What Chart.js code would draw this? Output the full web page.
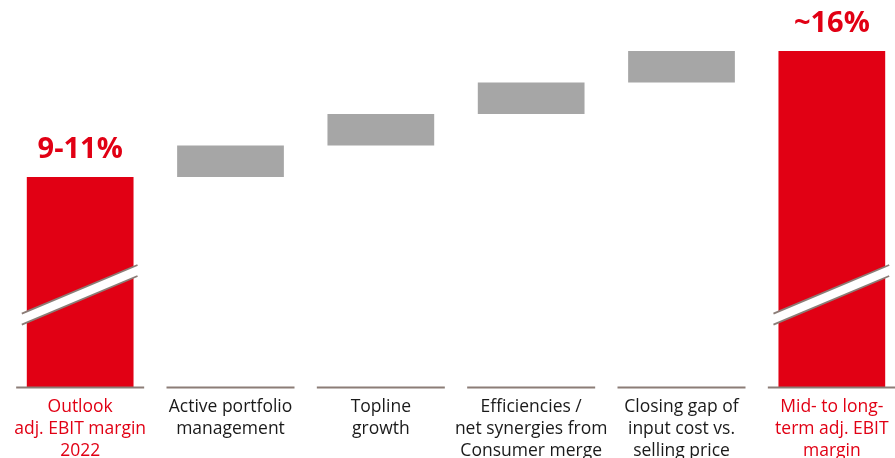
<!DOCTYPE html>
<html>
<head>
<meta charset="utf-8">
<script src="https://cdn.jsdelivr.net/npm/chart.js@4/dist/chart.umd.min.js"></script>
<style>
  html, body { margin: 0; padding: 0; background: #ffffff; overflow: hidden; }
  #wrap { position: absolute; left: 0; top: 0; width: 907px; height: 458px; }
</style>
</head>
<body>
<div id="wrap"><canvas id="chart"></canvas></div>
<script>
// Bridge categories (multi-line labels)
const categories = [
  ['Outlook', 'adj. EBIT margin', '2022'],
  ['Active portfolio', 'management'],
  ['Topline', 'growth'],
  ['Efficiencies /', 'net synergies from', 'Consumer merge'],
  ['Closing gap of', 'input cost vs.', 'selling price'],
  ['Mid- to long-', 'term adj. EBIT', 'margin']
];
// Adjusted EBIT margin, % of sales
const startMargin = 10;                 // 9-11% outlook, midpoint
const upliftSteps = [1.5, 1.5, 1.5, 1.5];
const targetMargin = 16;                // ~16%
const totalLabels = ['9-11%', '~16%'];

const RED = '#e10014';
const GREY = '#a6a6a6';
const LINE = '#8b7d77';

// Floating ranges for the bridge
const ranges = [[0, startMargin]];
let level = startMargin;
upliftSteps.forEach(s => { ranges.push([level, level + s]); level += s; });
ranges.push([0, targetMargin]);
const colors = ranges.map((r, i) => (i === 0 || i === ranges.length - 1) ? RED : GREY);

// Category baselines under every column
const baselinePlugin = {
  id: 'baselines',
  afterDatasetsDraw(chart) {
    const { ctx, scales: { x, y } } = chart;
    const y0 = Math.round(y.getPixelForValue(0)) + 0.5;
    ctx.save();
    ctx.strokeStyle = LINE;
    ctx.lineWidth = 2;
    categories.forEach((c, i) => {
      const cx = x.getPixelForValue(i);
      ctx.beginPath();
      ctx.moveTo(cx - 64, y0);
      ctx.lineTo(cx + 64, y0);
      ctx.stroke();
    });
    ctx.restore();
  }
};

// Axis-break bands on the two total columns, plus their value labels
const breakPlugin = {
  id: 'axisBreak',
  afterDatasetsDraw(chart) {
    const { ctx, scales: { y } } = chart;
    const meta = chart.getDatasetMeta(0);
    const ends = [0, ranges.length - 1];
    ctx.save();
    ends.forEach((idx, k) => {
      const bar = meta.data[idx];
      const half = bar.width / 2;
      const x1 = bar.x - half - 5, x2 = bar.x + half + 4;
      const yc = y.getPixelForValue(4.4);
      const slope = -0.42;
      const gap = 11;
      const yAt = (xx) => yc + slope * (xx - bar.x);
      ctx.fillStyle = '#ffffff';
      ctx.beginPath();
      ctx.moveTo(x1, yAt(x1) - gap / 2);
      ctx.lineTo(x2, yAt(x2) - gap / 2);
      ctx.lineTo(x2, yAt(x2) + gap / 2);
      ctx.lineTo(x1, yAt(x1) + gap / 2);
      ctx.closePath();
      ctx.fill();
      ctx.strokeStyle = LINE;
      ctx.lineWidth = 1.8;
      [-gap / 2, gap / 2].forEach(off => {
        ctx.beginPath();
        ctx.moveTo(x1, yAt(x1) + off);
        ctx.lineTo(x2, yAt(x2) + off);
        ctx.stroke();
      });
      // value label above the column
      ctx.fillStyle = RED;
      ctx.font = 'bold 29px "Open Sans", sans-serif';
      ctx.textAlign = 'center';
      ctx.textBaseline = 'alphabetic';
      ctx.fillText(totalLabels[k], bar.x, bar.y - 19);
    });
    ctx.restore();
  }
};

new Chart(document.getElementById('chart'), {
  type: 'bar',
  data: {
    labels: categories,
    datasets: [{
      data: ranges,
      backgroundColor: colors,
      borderWidth: 0,
      borderSkipped: false,
      categoryPercentage: 1,
      barPercentage: 0.71
    }]
  },
  options: {
    responsive: true,
    maintainAspectRatio: false,
    animation: false,
    layout: { padding: { left: 5, right: 0, top: 0, bottom: 0 } },
    plugins: { legend: { display: false }, tooltip: { enabled: false } },
    scales: {
      x: {
        grid: { display: false, drawTicks: false },
        border: { display: false },
        ticks: {
          padding: 9,
          autoSkip: false,
          maxRotation: 0,
          font: { family: '"Open Sans", sans-serif', size: 17.5, lineHeight: 1.26 },
          color: (ctx) => (ctx.index === 0 || ctx.index === categories.length - 1) ? RED : '#1a1a1a'
        },
        afterFit(scale) { scale.height = 71; }
      },
      y: {
        display: false,
        min: 0,
        max: 18.43
      }
    }
  },
  plugins: [baselinePlugin, breakPlugin]
});
</script>
</body>
</html>
